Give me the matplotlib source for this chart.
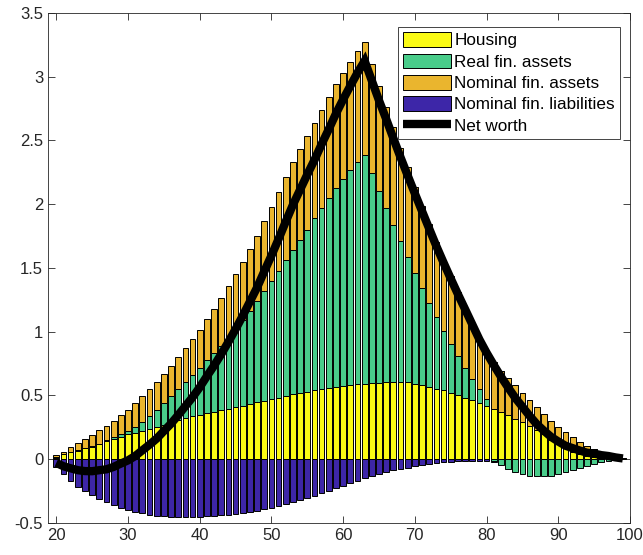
import numpy as np
import matplotlib
matplotlib.use("Agg")
import matplotlib.pyplot as plt

# ================= DATA =================
ages = list(range(20, 100))

housing = [
    0.008, 0.039, 0.055, 0.068, 0.086, 0.099, 0.117, 0.141, 0.159, 0.177,
    0.198, 0.209, 0.219, 0.235, 0.250, 0.266, 0.290, 0.310, 0.325, 0.340,
    0.350, 0.360, 0.370, 0.383, 0.396, 0.409, 0.420, 0.435, 0.447, 0.460,
    0.470, 0.480, 0.498, 0.508, 0.520, 0.530, 0.540, 0.548, 0.555, 0.566,
    0.574, 0.579, 0.587, 0.592, 0.597, 0.600, 0.603, 0.603, 0.605, 0.605,
    0.592, 0.579, 0.566, 0.550, 0.540, 0.522, 0.503, 0.483, 0.462, 0.443,
    0.417, 0.392, 0.367, 0.344, 0.317, 0.290, 0.258, 0.227, 0.196, 0.154,
    0.117, 0.090, 0.060, 0.042, 0.029, 0.018, 0.010, 0.005, 0.003, 0.001,
]

real_fin = [
    0.012, 0.004, 0.004, 0.004, 0.004, 0.005, 0.005, 0.010, 0.013, 0.021,
    0.026, 0.046, 0.076, 0.105, 0.140, 0.174, 0.205, 0.240, 0.280, 0.320,
    0.365, 0.415, 0.460, 0.507, 0.559, 0.611, 0.670, 0.730, 0.793, 0.860,
    0.930, 1.000, 1.062, 1.132, 1.200, 1.270, 1.350, 1.422, 1.492, 1.560,
    1.626, 1.691, 1.747, 1.798, 1.646, 1.505, 1.367, 1.236, 1.103, 0.981,
    0.869, 0.764, 0.660, 0.563, 0.464, 0.383, 0.307, 0.234, 0.168, 0.110,
    0.058, -0.016, -0.042, -0.073, -0.099, -0.112, -0.128, -0.133, -0.133, -0.128,
    -0.117, -0.104, -0.086, -0.065, -0.050, -0.034, -0.021, -0.010, -0.005, -0.002,
]

nominal_fin = [
    0.014, 0.017, 0.037, 0.056, 0.070, 0.086, 0.105, 0.109, 0.128, 0.149,
    0.166, 0.185, 0.200, 0.210, 0.215, 0.230, 0.235, 0.250, 0.265, 0.280,
    0.300, 0.325, 0.350, 0.375, 0.401, 0.430, 0.457, 0.484, 0.510, 0.545,
    0.577, 0.615, 0.657, 0.694, 0.716, 0.738, 0.744, 0.769, 0.791, 0.814,
    0.831, 0.847, 0.866, 0.883, 0.856, 0.821, 0.795, 0.764, 0.736, 0.704,
    0.678, 0.647, 0.619, 0.587, 0.561, 0.530, 0.500, 0.473, 0.440, 0.397,
    0.370, 0.368, 0.323, 0.292, 0.263, 0.233, 0.210, 0.181, 0.160, 0.149,
    0.139, 0.120, 0.113, 0.091, 0.072, 0.060, 0.043, 0.030, 0.016, 0.007,
]

nominal_liab = [
    -0.063, -0.115, -0.167, -0.214, -0.253, -0.284, -0.313, -0.339, -0.360, -0.381,
    -0.399, -0.415, -0.425, -0.436, -0.443, -0.449, -0.451, -0.454, -0.454, -0.454,
    -0.451, -0.449, -0.446, -0.441, -0.436, -0.430, -0.422, -0.413, -0.403, -0.392,
    -0.380, -0.367, -0.353, -0.338, -0.322, -0.305, -0.287, -0.268, -0.249, -0.229,
    -0.209, -0.189, -0.169, -0.149, -0.130, -0.112, -0.097, -0.086, -0.076, -0.065,
    -0.055, -0.044, -0.037, -0.029, -0.023, -0.018, -0.015, -0.013, -0.012, -0.011,
    -0.010, -0.005, 0.0, 0.0, 0.0, 0.0, 0.0, 0.0, 0.0, 0.0,
    0.0, 0.0, 0.0, 0.0, 0.0, 0.0, 0.0, 0.0, 0.0, 0.0,
]

net_worth = [
    -0.029, -0.055, -0.071, -0.086, -0.093, -0.094, -0.086, -0.079, -0.060, -0.034,
    -0.009, 0.025, 0.070, 0.114, 0.162, 0.221, 0.279, 0.346, 0.416, 0.486,
    0.564, 0.651, 0.734, 0.824, 0.920, 1.020, 1.125, 1.236, 1.347, 1.473,
    1.597, 1.728, 1.864, 1.996, 2.114, 2.233, 2.347, 2.471, 2.589, 2.711,
    2.822, 2.928, 3.031, 3.124, 2.969, 2.814, 2.668, 2.517, 2.368, 2.225,
    2.084, 1.946, 1.808, 1.671, 1.542, 1.417, 1.295, 1.177, 1.058, 0.939,
    0.835, 0.739, 0.648, 0.563, 0.481, 0.411, 0.340, 0.275, 0.223, 0.175,
    0.139, 0.106, 0.087, 0.068, 0.051, 0.044, 0.032, 0.025, 0.014, 0.006,
]

labels = ["Housing", "Real fin. assets", "Nominal fin. assets", "Nominal fin. liabilities"]
colors = ["#FAFA14", "#49CC8A", "#EAB52E", "#3D26A8"]

# ================= PLOT =================
plt.rcParams["font.family"] = ["Liberation Sans", "DejaVu Sans"]
axcol = "#262626"

fig = plt.figure(figsize=(6.43, 5.55), dpi=100)
ax = fig.add_axes([0.0747, 0.0577, 0.9051, 0.9189])

# stacked bars, positives upward and negatives downward (like MATLAB)
pos_base = np.zeros(len(ages))
neg_base = np.zeros(len(ages))
handles = []
for vals, col, lab in zip([housing, real_fin, nominal_fin, nominal_liab], colors, labels):
    v = np.array(vals)
    bottom = np.where(v >= 0, pos_base, neg_base)
    h = ax.bar(ages, v, 0.8, bottom=bottom, color=col, edgecolor="black",
               linewidth=0.7, label=lab, zorder=2)
    handles.append(h)
    pos_base += np.clip(v, 0, None)
    neg_base += np.clip(v, None, 0)

line, = ax.plot(ages, net_worth, color="black", linewidth=6, label="Net worth",
                solid_capstyle="butt", solid_joinstyle="miter", zorder=3)
handles.append(line)

ax.set_xlim(18.85, 100)
ax.set_ylim(-0.5, 3.5)
ax.set_xticks(range(20, 101, 10))
ax.set_yticks(np.arange(-0.5, 3.51, 0.5))
ax.set_yticklabels(["-0.5", "0", "0.5", "1", "1.5", "2", "2.5", "3", "3.5"])

ax.tick_params(direction="in", top=True, right=True, length=5, width=0.6,
               colors=axcol, labelsize=12, labelcolor=axcol)
for s in ax.spines.values():
    s.set_color(axcol)
    s.set_linewidth(0.6)

leg = ax.legend(handles=handles, loc="upper right", bbox_to_anchor=(0.983, 0.9725),
                borderaxespad=0, fontsize=12.3, fancybox=False, framealpha=1,
                edgecolor=axcol, handlelength=2.8, handleheight=0.95,
                labelspacing=0.3, borderpad=0.3, handletextpad=0.2)
leg.get_frame().set_linewidth(0.6)

fig.savefig("out.png", dpi=100)
